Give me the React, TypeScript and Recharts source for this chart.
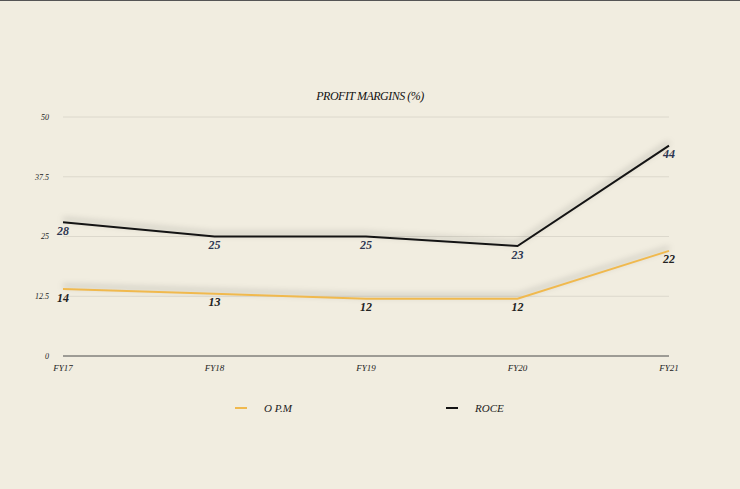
import { CartesianGrid, LabelList, Legend, Line, LineChart, XAxis, YAxis } from "recharts";

const YEARS = ["FY17", "FY18", "FY19", "FY20", "FY21"];
const OPM = [14, 13, 12, 12, 22];
const ROCE = [28, 25, 25, 23, 44];
const Y_TICKS = [0, 12.5, 25, 37.5, 50];

const DATA = YEARS.map((year, i) => ({ year, opm: OPM[i], roce: ROCE[i] }));

const BG = "#f1ede0";
const GOLD = "#f0b94e";
const INK = "#141414";
const FONT = "'Liberation Serif', 'DejaVu Serif', serif";

function LegendRow() {
  const items = [
    { name: "O P.M", color: GOLD, left: 235 },
    { name: "ROCE", color: INK, left: 446 },
  ];
  return (
    <div style={{ position: "relative", height: 20 }}>
      {items.map((it) => (
        <div
          key={it.name}
          style={{ position: "absolute", left: it.left, top: 0, display: "flex", alignItems: "center" }}
        >
          <span style={{ width: 12, height: 2, background: it.color, display: "inline-block" }} />
          <span style={{ marginLeft: 17, fontSize: 11, fontStyle: "italic", color: "#222", fontFamily: FONT }}>
            {it.name}
          </span>
        </div>
      ))}
    </div>
  );
}

export default function App() {
  return (
    <div
      style={{
        position: "absolute",
        left: 0,
        top: 0,
        width: 740,
        height: 489,
        background: BG,
        borderTop: "1px solid #555",
        boxSizing: "border-box",
        fontFamily: FONT,
      }}
    >
      <style>{`.recharts-line-curve { filter: drop-shadow(0 -3px 3px rgba(0,0,0,0.28)); }`}</style>
      <div
        style={{
          position: "absolute",
          top: 88,
          left: 0,
          width: 740,
          textAlign: "center",
          fontSize: 12,
          fontStyle: "italic",
          color: "#111",
          letterSpacing: -0.5,
        }}
      >
        PROFIT MARGINS (%)
      </div>
      <LineChart
        width={740}
        height={488}
        data={DATA}
        margin={{ top: 116, right: 71, left: 0, bottom: 83 }}
        style={{ position: "absolute", top: 0, left: 0 }}
      >
        <CartesianGrid stroke="#dcd8cc" vertical={false} />
        <XAxis
          dataKey="year"
          axisLine={{ stroke: "#555" }}
          tickLine={false}
          tick={{ fill: "#222", fontSize: 9, fontStyle: "italic" }}
          tickMargin={3}
          height={30}
        />
        <YAxis
          domain={[0, 50]}
          ticks={Y_TICKS}
          axisLine={false}
          tickLine={false}
          tick={{ fill: "#222", fontSize: 8, fontStyle: "italic" }}
          width={63}
          tickMargin={8}
        />
        <Legend verticalAlign="bottom" content={<LegendRow />} wrapperStyle={{ bottom: 67 }} />
        <Line
          dataKey="opm"
          name="O P.M"
          type="linear"
          stroke={GOLD}
          strokeWidth={2}
          dot={false}
          isAnimationActive={false}
        >
          <LabelList dataKey="opm" position="bottom" offset={4} fill="#222" fontSize={12} fontWeight={700} fontStyle="italic" />
        </Line>
        <Line
          dataKey="roce"
          name="ROCE"
          type="linear"
          stroke={INK}
          strokeWidth={2}
          dot={false}
          isAnimationActive={false}
        >
          <LabelList dataKey="roce" position="bottom" offset={4} fill="#2d3652" fontSize={12} fontWeight={700} fontStyle="italic" />
        </Line>
      </LineChart>
    </div>
  );
}
